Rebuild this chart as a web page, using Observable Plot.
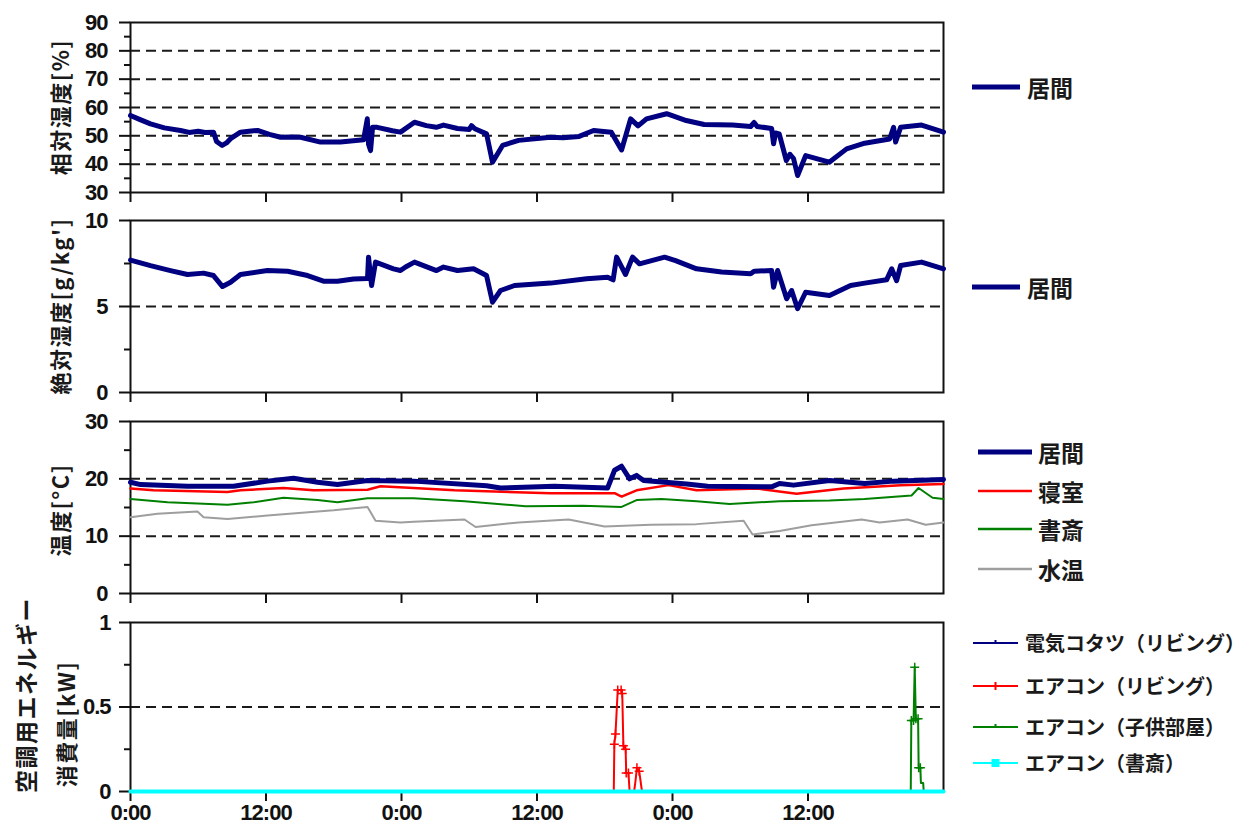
<!DOCTYPE html>
<html><head><meta charset="utf-8">
<script src="https://cdn.jsdelivr.net/npm/d3@7"></script>
<script src="https://cdn.jsdelivr.net/npm/@observablehq/plot@0.6"></script>
<style>
body{margin:0;background:#fff;width:1252px;height:828px;position:relative;overflow:hidden;font-family:"Liberation Sans",Arial,sans-serif}
svg text{letter-spacing:-1px;font-weight:bold}
.yt{position:absolute;font-family:"Noto Sans CJK JP",sans-serif;font-weight:bold;font-size:22px;letter-spacing:1.5px;color:#1a1a1a;white-space:nowrap;transform:translate(-50%,-50%) rotate(-90deg);line-height:1}
.lg{position:absolute;font-family:"Noto Sans CJK JP",sans-serif;font-weight:bold;color:#1a1a1a;white-space:nowrap;line-height:1;transform:translateY(-50%)}
.sw{position:absolute;overflow:visible}
</style></head>
<body>
<script>
// ---- data (hour from start, value) ----
const xTicks = [0, 12, 24, 36, 48, 60];
const xTickLabels = ["0:00", "12:00", "0:00", "12:00", "0:00", "12:00"];

const rhLiving = [[0,57.2],[0.8,55.8],[1.77,54.2],[3,52.8],[4.43,51.9],[5.2,51.2],[6,51.6],[6.6,51.2],[7.35,51.3],[7.62,48],[8.12,46.6],[8.5,47.5],[8.86,49],[9.74,51.3],[10.5,51.6],[11.25,51.9],[12.3,50.5],[13.29,49.5],[14.2,49.6],[15.06,49.5],[16.83,47.8],[18.6,47.8],[20.64,48.6],[20.97,56],[21.08,47],[21.26,44.8],[21.44,53],[21.85,53],[23.2,51.8],[23.91,51.3],[25.15,54.8],[26.2,53.6],[27.08,53],[27.72,53.8],[28.96,52.6],[30.0,52.2],[30.2,53.6],[30.5,52.5],[31.53,50.7],[32.06,40.7],[32.95,46.6],[34.37,48.4],[37.2,49.5],[38.3,49.3],[39.73,49.8],[41.01,51.9],[42.58,51.3],[43.49,45],[44.29,56],[44.95,53.5],[45.7,56],[47.48,57.8],[49.22,55.4],[50.8,54],[53.32,53.8],[54.92,53.3],[55.23,54.7],[55.5,53.3],[56.78,52.6],[56.95,47.2],[57.13,51],[57.45,50.7],[58.08,41.3],[58.4,43.5],[58.72,42],[59.08,36],[59.79,43],[61.88,40.7],[63.42,45.4],[65.02,47.4],[67.23,48.9],[67.58,53],[67.76,47.8],[68.2,53],[70.06,53.8],[72,51.3]];

const ahLiving = [[0,7.7],[1.77,7.38],[3.54,7.09],[5.05,6.86],[6.47,6.94],[7.35,6.8],[8.15,6.16],[8.86,6.41],[9.74,6.86],[12.13,7.09],[13.91,7.05],[15.68,6.8],[17.09,6.47],[18.33,6.47],[19.75,6.6],[20.99,6.63],[21.08,7.87],[21.35,6.22],[21.7,7.58],[23.29,7.19],[23.91,7.09],[24.36,7.3],[25.15,7.58],[27.1,7.09],[27.72,7.29],[28.96,7.09],[30.38,7.19],[31.53,6.8],[32.06,5.25],[32.77,5.93],[34.01,6.22],[37.2,6.36],[40.39,6.61],[42.25,6.7],[42.74,6.55],[43.05,7.87],[43.84,6.86],[44.46,7.87],[45.08,7.48],[47.3,7.87],[48.27,7.67],[50.13,7.19],[52.35,7.0],[54.92,6.9],[55.23,7.05],[56.78,7.09],[56.95,6.12],[57.31,7.09],[58.11,5.45],[58.55,5.93],[59.08,4.87],[59.79,5.83],[61.9,5.64],[63.77,6.22],[65.02,6.36],[66.96,6.55],[67.41,7.19],[67.85,6.5],[68.2,7.38],[70.06,7.58],[72,7.19]];

const tLiving = [[0,19.4],[0.89,19.0],[5.05,18.7],[9.12,18.7],[12.13,19.6],[14.44,20.1],[16.56,19.4],[18.33,19.0],[20.99,19.7],[25.07,19.6],[31.53,18.8],[32.77,18.4],[37.55,18.7],[42.25,18.4],[42.87,21.5],[43.49,22.2],[44.2,20.0],[44.82,20.6],[45.44,19.7],[49.25,19.1],[51.11,18.7],[56.78,18.6],[57.48,19.2],[58.72,18.9],[61.91,19.7],[65.01,19.2],[67.58,19.6],[72,19.9]];
const tBedroom = [[0,18.3],[2.04,18.0],[8.59,17.7],[9.74,18.0],[13.55,18.4],[16.21,18.0],[20.99,18.1],[22.14,18.7],[25.07,18.4],[28.7,18.0],[37.2,17.5],[42.87,17.5],[43.49,16.9],[44.82,18.0],[47.65,18.9],[50.13,18.0],[55.54,18.3],[58.99,17.4],[63.15,18.3],[68.2,18.9],[72,19.1]];
const tStudy = [[0,16.5],[3.28,15.9],[8.59,15.5],[10.89,15.9],[13.55,16.7],[16.56,16.3],[18.33,15.9],[20.99,16.6],[25.07,16.6],[29.58,16.1],[34.99,15.2],[40.04,15.3],[43.49,15.1],[44.82,16.3],[47.03,16.5],[50.13,16.1],[53.06,15.6],[57.48,16.1],[61.91,16.2],[65.01,16.5],[69.17,17.1],[69.79,18.4],[71.03,16.7],[72,16.5]];
const tWater = [[0,13.3],[2.39,13.9],[5.93,14.3],[6.47,13.3],[8.59,13.0],[12.13,13.6],[17.98,14.5],[20.99,15.1],[21.7,12.7],[23.91,12.4],[25.07,12.5],[29.58,12.9],[30.56,11.6],[34.37,12.4],[38.8,12.9],[41.98,11.7],[46.06,12.0],[50.13,12.1],[54.3,12.7],[55.09,10.3],[57.48,10.9],[60.32,11.9],[64.75,12.9],[66.34,12.4],[68.82,12.9],[70.42,12.0],[72,12.4]];

const eKotatsu = [[0,0],[72,0]];
const eAcLiving = [[0,0],[42.8,0],[42.85,0.28],[42.95,0.34],[43.15,0.6],[43.45,0.6],[43.55,0.58],[43.65,0.27],[43.85,0.25],[43.9,0.11],[44.1,0.11],[44.2,0],[44.6,0],[44.7,0.05],[44.85,0.14],[45.05,0.12],[45.3,0],[72,0]];
const eAcChild = [[0,0],[69.1,0],[69.15,0.42],[69.35,0.42],[69.45,0.735],[69.55,0.43],[69.75,0.43],[69.8,0.14],[69.95,0.14],[70.0,0.05],[70.2,0.05],[70.25,0],[72,0]];
const eAcStudy = [[0,0],[72,0]];

const legendTH = ["居間", "寝室", "書斎", "水温"];
const legendE = ["電気コタツ（リビング）", "エアコン（リビング）", "エアコン（子供部屋）", "エアコン（書斎）"];
const yTitles = ["相対湿度[%]", "絶対湿度[g/kg']", "温度[°C]", "空調用エネルギー", "消費量[kW]"];

// ---- drawing ----
const NAVY = "#000080", RED = "#ff0000", GREEN = "#008000", GRAY = "#9e9e9e", CYAN = "#00ffff";
const W = 960, X0 = 130, X1 = 943;
const xy = {x: d => d[0], y: d => d[1], strokeLinejoin: "round"};

function panel({top, h, domain, major, minor, grid, fmt, lines, showX, pad}) {
  const mt = 16, mb = showX ? 40 : 14;
  const svg = Plot.plot({
    width: W, height: h + mt + mb,
    marginLeft: X0, marginRight: W - X1, marginTop: mt, marginBottom: mb,
    x: {domain: [0, 72]},
    y: {domain},
    style: {fontFamily: "'Liberation Sans', Arial, sans-serif", fontSize: "22px", color: "#111", background: "none", overflow: "visible"},
    marks: [
      Plot.ruleY(grid, {stroke: "#1a1a1a", strokeWidth: 2, strokeDasharray: "10,6"}),
      Plot.axisY(major, {anchor: "left", tickSize: 11, tickPadding: pad, strokeWidth: 2, tickFormat: fmt, label: null}),
      Plot.axisY(minor, {anchor: "left", tickSize: 6, strokeWidth: 2, tickFormat: () => "", label: null}),
      Plot.axisX(xTicks, {anchor: "bottom", tickSize: 10, tickPadding: 3, strokeWidth: 2,
        tickFormat: showX ? (d => xTickLabels[xTicks.indexOf(d)]) : () => "", label: null}),
      Plot.frame({stroke: "#111", strokeWidth: 2}),
      ...lines
    ]
  });
  svg.style.position = "absolute";
  svg.style.left = "0px";
  svg.style.top = (top - mt) + "px";
  document.body.appendChild(svg);
}

panel({top: 22, h: 170, domain: [30, 90], major: [30,40,50,60,70,80,90], minor: [35,45,55,65,75,85],
  grid: [40,50,60,70,80], fmt: d => d, pad: 12,
  lines: [Plot.line(rhLiving, {...xy, stroke: NAVY, strokeWidth: 5})]});

panel({top: 220, h: 172, domain: [0, 10], major: [0,5,10], minor: [2.5,7.5],
  grid: [5], fmt: d => d, pad: 12,
  lines: [Plot.line(ahLiving, {...xy, stroke: NAVY, strokeWidth: 5})]});

panel({top: 421, h: 172, domain: [0, 30], major: [0,10,20,30], minor: [5,15,25],
  grid: [10,20], fmt: d => d, pad: 12,
  lines: [
    Plot.line(tWater, {...xy, stroke: GRAY, strokeWidth: 2}),
    Plot.line(tStudy, {...xy, stroke: GREEN, strokeWidth: 2}),
    Plot.line(tBedroom, {...xy, stroke: RED, strokeWidth: 2.5}),
    Plot.line(tLiving, {...xy, stroke: NAVY, strokeWidth: 5})
  ]});

panel({top: 622, h: 169, domain: [0, 1], major: [0,0.5,1], minor: [0.25,0.75],
  grid: [0.5], fmt: d => d, pad: 9, showX: true,
  lines: [
    Plot.line(eKotatsu, {...xy, stroke: NAVY, strokeWidth: 2}),
    Plot.line(eAcLiving, {...xy, stroke: RED, strokeWidth: 2}),
    Plot.dot(eAcLiving.filter(d => d[1] > 0.1), {x: d => d[0], y: d => d[1], symbol: "plus", r: 3, stroke: RED, strokeWidth: 1.5}),
    Plot.line(eAcChild, {...xy, stroke: GREEN, strokeWidth: 2}),
    Plot.dot(eAcChild.filter(d => d[1] > 0.1), {x: d => d[0], y: d => d[1], symbol: "plus", r: 3, stroke: GREEN, strokeWidth: 1.5}),
    Plot.line(eAcStudy, {...xy, stroke: CYAN, strokeWidth: 4})
  ]});

// y-axis titles
function ytitle(text, x, y, fs) {
  const d = document.createElement("div");
  d.className = "yt"; d.textContent = text;
  d.style.left = x + "px"; d.style.top = y + "px";
  if (fs) d.style.fontSize = fs + "px";
  document.body.appendChild(d);
}
ytitle(yTitles[0], 59, 107);
ytitle(yTitles[1], 59, 306);
ytitle(yTitles[2], 59, 510);
ytitle(yTitles[3], 25, 695, 23);
ytitle(yTitles[4], 65, 724);

// legends
function legendItem(label, y, x0, x1, tx, fs, color, sw, marker) {
  const s = document.createElementNS("http://www.w3.org/2000/svg", "svg");
  s.setAttribute("class", "sw");
  s.setAttribute("width", x1 - x0 + 10); s.setAttribute("height", 16);
  s.style.left = (x0 - 5) + "px"; s.style.top = (y - 8) + "px";
  const ln = document.createElementNS("http://www.w3.org/2000/svg", "line");
  ln.setAttribute("x1", 5); ln.setAttribute("x2", x1 - x0 + 5);
  ln.setAttribute("y1", 8); ln.setAttribute("y2", 8);
  ln.setAttribute("stroke", color); ln.setAttribute("stroke-width", sw);
  s.appendChild(ln);
  const mx = (x1 - x0) / 2 + 5;
  if (marker === "plus" || marker === "tick") {
    const m = document.createElementNS("http://www.w3.org/2000/svg", "line");
    m.setAttribute("x1", mx); m.setAttribute("x2", mx);
    m.setAttribute("y1", marker === "plus" ? 4 : 5); m.setAttribute("y2", marker === "plus" ? 12 : 8);
    m.setAttribute("stroke", color); m.setAttribute("stroke-width", 2);
    s.appendChild(m);
  } else if (marker === "square") {
    const r = document.createElementNS("http://www.w3.org/2000/svg", "rect");
    r.setAttribute("x", mx - 4); r.setAttribute("y", 4); r.setAttribute("width", 8); r.setAttribute("height", 8);
    r.setAttribute("fill", color);
    s.appendChild(r);
  }
  document.body.appendChild(s);
  const t = document.createElement("div");
  t.className = "lg"; t.textContent = label;
  t.style.left = tx + "px"; t.style.top = y + "px"; t.style.fontSize = fs + "px";
  document.body.appendChild(t);
}
legendItem(legendTH[0], 87, 972, 1020, 1027, 23, NAVY, 5);
legendItem(legendTH[0], 287, 972, 1020, 1027, 23, NAVY, 5);
const thColors = [NAVY, RED, GREEN, GRAY], thW = [5, 2.5, 2.5, 2.5], thY = [452, 491, 529, 569];
legendTH.forEach((l, i) => legendItem(l, thY[i], 978, 1032, 1038, 23, thColors[i], thW[i]));
const eColors = [NAVY, RED, GREEN, CYAN], eY = [643, 686, 727, 763], eM = ["tick", "plus", "tick", "square"];
legendE.forEach((l, i) => legendItem(l, eY[i], 973, 1018, 1025, 20, eColors[i], 2, eM[i]));
</script>
</body></html>
